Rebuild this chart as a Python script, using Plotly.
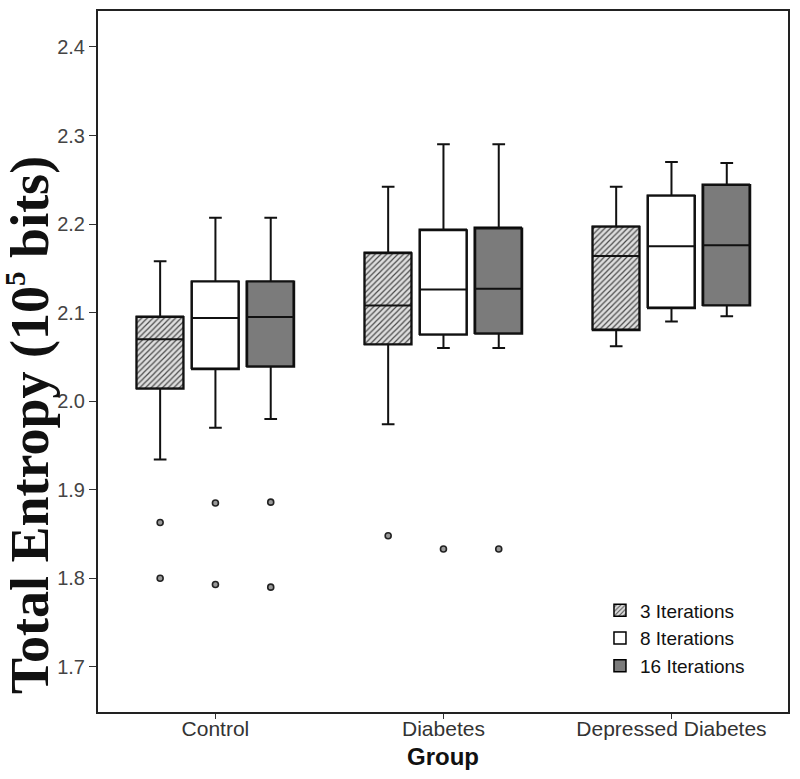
import plotly.graph_objects as go

groups = ["Control", "Diabetes", "Depressed Diabetes"]
series = ["3 Iterations", "8 Iterations", "16 Iterations"]

# per series: values for [Control, Diabetes, Depressed Diabetes]
upper_3 = [2.158, 2.242, 2.242]
q3_3 = [2.095, 2.167, 2.197]
median_3 = [2.070, 2.108, 2.164]
q1_3 = [2.014, 2.064, 2.080]
lower_3 = [1.934, 1.974, 2.062]

upper_8 = [2.207, 2.290, 2.270]
q3_8 = [2.135, 2.193, 2.232]
median_8 = [2.094, 2.126, 2.175]
q1_8 = [2.036, 2.075, 2.105]
lower_8 = [1.970, 2.060, 2.090]

upper_16 = [2.207, 2.290, 2.269]
q3_16 = [2.135, 2.195, 2.244]
median_16 = [2.095, 2.127, 2.176]
q1_16 = [2.039, 2.076, 2.108]
lower_16 = [1.980, 2.060, 2.096]

# outliers: (group index, value)
outliers_3 = [(0, 1.863), (0, 1.800), (1, 1.848)]
outliers_8 = [(0, 1.885), (0, 1.793), (1, 1.833)]
outliers_16 = [(0, 1.886), (0, 1.790), (1, 1.833)]

y_ticks = [1.7, 1.8, 1.9, 2.0, 2.1, 2.2, 2.3, 2.4]

stats = [
    (upper_3, q3_3, median_3, q1_3, lower_3, outliers_3),
    (upper_8, q3_8, median_8, q1_8, lower_8, outliers_8),
    (upper_16, q3_16, median_16, q1_16, lower_16, outliers_16),
]

OFFSET = 0.2425
BOX_W = 0.206
fills = ["#d4d4d4", "#ffffff", "#7b7b7b"]

fig = go.Figure()
gidx = list(range(len(groups)))

# filled bodies as bars (for pattern + legend)
for k, (up, q3, med, q1, lo, outs) in enumerate(stats):
    pos = [g + (k - 1) * OFFSET for g in gidx]
    marker = dict(color=fills[k], line=dict(color="black", width=1.5))
    if k == 0:
        marker["pattern"] = dict(shape="/", bgcolor="#dedede", fgcolor="#4a4a4a",
                                 size=4, solidity=0.3, fillmode="replace")
    fig.add_trace(go.Bar(
        x=pos, y=[a - b for a, b in zip(q3, q1)], base=q1, width=BOX_W,
        name=series[k], marker=marker, showlegend=True, hoverinfo="skip",
    ))

for k, (up, q3, med, q1, lo, outs) in enumerate(stats):
    pos = [g + (k - 1) * OFFSET for g in gidx]
    fig.add_trace(go.Box(
        x=pos, q1=q1, median=med, q3=q3, lowerfence=lo, upperfence=up,
        width=BOX_W, fillcolor="rgba(0,0,0,0)", whiskerwidth=0.27,
        line=dict(color="#111111", width=2), showlegend=False, name=series[k],
    ))
    fig.add_trace(go.Scatter(
        x=[o[0] + (k - 1) * OFFSET for o in outs], y=[o[1] for o in outs],
        mode="markers", showlegend=False,
        marker=dict(symbol="circle", size=6, color="#999999",
                    line=dict(color="#222222", width=1.6)),
    ))

fig.update_layout(
    width=800, height=779,
    margin=dict(l=98, r=12, t=11, b=67, autoexpand=False),
    plot_bgcolor="white", paper_bgcolor="white",
    barmode="overlay", bargap=0,
    font=dict(family="Liberation Sans, Arial", size=21, color="#333333"),
    xaxis=dict(
        range=[-0.515, 2.511], tickmode="array", tickvals=gidx, ticktext=groups,
        showline=True, mirror=True, linecolor="#222222", linewidth=2,
        ticks="outside", ticklen=5, tickcolor="#333333", showgrid=False, zeroline=False,
        tickfont=dict(size=21, color="#333333"), automargin=False,
        ticklabelstandoff=-8,
        title=dict(text="<b>Group</b>", font=dict(size=24, color="#111111"), standoff=9),
    ),
    yaxis=dict(
        range=[1.649, 2.4406], tickmode="array", tickvals=y_ticks,
        ticktext=[f"{v:.1f}" for v in y_ticks],
        showline=True, mirror=True, linecolor="#222222", linewidth=2,
        ticks="outside", ticklen=7, tickcolor="#333333", showgrid=False, zeroline=False,
        tickfont=dict(size=20, color="#444444"), automargin=False,
    ),
    annotations=[dict(
        text="<b>Total Entropy (10<sup><span style=\"font-size:29px\">5</span></sup> bits)</b>",
        textangle=-90, xref="paper", yref="paper",
        x=-0.1, y=(779 - 67 - 425) / (779 - 67 - 11),
        xanchor="center", yanchor="middle", showarrow=False,
        font=dict(family="Liberation Serif, Times New Roman", size=54, color="#111111"),
    )],
    legend=dict(
        x=0.7275, y=0.172, xanchor="left", yanchor="top",
        bgcolor="rgba(0,0,0,0)", font=dict(size=19, color="#111111"),
        tracegroupgap=0, itemwidth=30,
    ),
)

fig.write_html("out.html", config={"displayModeBar": False},
               post_script="document.body.style.margin='0';document.body.style.padding='0';")
